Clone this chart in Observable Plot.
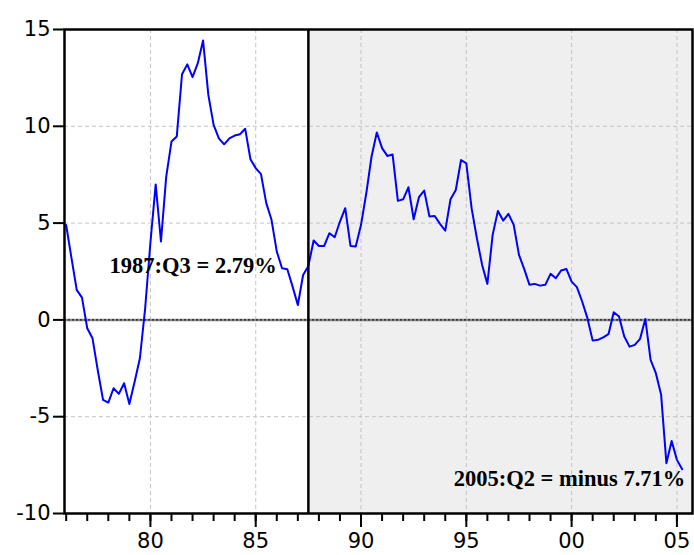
<!DOCTYPE html>
<html>
<head>
<meta charset="utf-8">
<script src="https://cdn.jsdelivr.net/npm/d3@7"></script>
<script src="https://cdn.jsdelivr.net/npm/@observablehq/plot@0.6"></script>
<style>
  html, body { margin: 0; padding: 0; background: white; }
  #chart { width: 694px; height: 555px; }
</style>
</head>
<body>
<div id="chart"></div>
<script>
// Quarterly series, 1976:Q1 .. 2005:Q2 (percent)
const startYear = 1976;
const quarterValues = [
  4.9, 3.2, 1.55, 1.15,        // 1976
  -0.43, -0.95, -2.6, -4.13,   // 1977
  -4.27, -3.53, -3.82, -3.27,  // 1978
  -4.34, -3.19, -1.98, 0.6,    // 1979
  4.0, 7.0, 4.05, 7.4,         // 1980
  9.21, 9.47, 12.69, 13.2,     // 1981
  12.54, 13.26, 14.43, 11.62,  // 1982
  10.07, 9.38, 9.07, 9.38,     // 1983
  9.52, 9.59, 9.87, 8.3,       // 1984
  7.84, 7.53, 6.03, 5.17,      // 1985
  3.53, 2.67, 2.62, 1.72,      // 1986
  0.77, 2.32, 2.79, 4.1,       // 1987
  3.82, 3.82, 4.48, 4.27,      // 1988
  5.08, 5.77, 3.82, 3.79,      // 1989
  4.91, 6.54, 8.44, 9.68,      // 1990
  8.87, 8.47, 8.54, 6.15,      // 1991
  6.23, 6.85, 5.2, 6.34,       // 1992
  6.68, 5.34, 5.37, 4.96,      // 1993
  4.61, 6.23, 6.71, 8.26,      // 1994
  8.09, 5.77, 4.22, 2.84,      // 1995
  1.86, 4.39, 5.63, 5.13,      // 1996
  5.48, 4.91, 3.36, 2.62,      // 1997
  1.81, 1.86, 1.77, 1.81,      // 1998
  2.38, 2.15, 2.55, 2.63,      // 1999
  1.98, 1.69, 0.95, 0.09,      // 2000
  -1.07, -1.03, -0.9, -0.74,   // 2001
  0.4, 0.17, -0.86, -1.38,     // 2002
  -1.29, -0.98, 0.05, -2.07,   // 2003
  -2.75, -3.87, -7.4, -6.25,   // 2004
  -7.23, -7.71                 // 2005
];

const xDomain = [1975.92, 2005.74];
const yDomain = [-10, 15];
const yTicks = [-10, -5, 0, 5, 10, 15];
const yGrid = [-5, 5, 10];
const xMajorTicks = [1980, 1985, 1990, 1995, 2000, 2005];
const xMinorTicks = d3.range(1976, 2006);
const breakQuarter = 1987.5; // 1987:Q3

const shade = [{x1: breakQuarter, x2: xDomain[1], y1: yDomain[0], y2: yDomain[1]}];
const annotations = [
  {x: 1986.0, y: 2.79, label: "1987:Q3 = 2.79%"},
  {x: 2005.4, y: -8.2, label: "2005:Q2 = minus 7.71%"}
];

const data = quarterValues.map((v, i) => ({t: startYear + i / 4, v}));

const axisFont = "'DejaVu Sans', sans-serif";

const chart = Plot.plot({
  width: 694,
  height: 555,
  marginLeft: 64,
  marginRight: 2,
  marginTop: 29,
  marginBottom: 42,
  style: {fontFamily: axisFont, background: "white", color: "black"},
  x: {type: "linear", domain: xDomain},
  y: {type: "linear", domain: yDomain},
  marks: [
    Plot.rect(shade, {x1: "x1", x2: "x2", y1: "y1", y2: "y2", fill: "#efefef"}),
    Plot.ruleX(xMajorTicks, {stroke: "#c4c4c4", strokeWidth: 1, strokeDasharray: "4,3"}),
    Plot.ruleY(yGrid, {stroke: "#c4c4c4", strokeWidth: 1, strokeDasharray: "4,3"}),
    Plot.ruleY([0], {stroke: "#8a8a8a", strokeWidth: 2.5}),
    Plot.ruleY([0], {stroke: "black", strokeWidth: 1, strokeDasharray: "2,2"}),
    Plot.line(data, {x: "t", y: "v", stroke: "#0000ff", strokeWidth: 2}),
    Plot.ruleX([breakQuarter], {stroke: "black", strokeWidth: 2.5}),
    Plot.text(annotations, {
      x: "x", y: "y", text: "label", textAnchor: "end",
      fontFamily: "'Liberation Serif', 'Times New Roman', serif",
      fontWeight: "bold", fontSize: 22.5, fill: "black"
    }),
    Plot.frame({stroke: "black", strokeWidth: 2.5}),
    Plot.axisY(yTicks, {
      tickSize: 11, tickPadding: 3, fontSize: 21, fontFamily: axisFont,
      strokeWidth: 2, stroke: "black", tickFormat: d => String(d), label: null
    }),
    Plot.axisX(xMinorTicks, {tickSize: 8, strokeWidth: 2, stroke: "black", tickFormat: () => "", label: null}),
    Plot.axisX(xMajorTicks, {
      tickSize: 14, tickPadding: 6, fontSize: 21, fontFamily: axisFont,
      strokeWidth: 2, stroke: "black",
      tickFormat: d => String(d % 100).padStart(2, "0"), label: null
    })
  ]
});
document.getElementById("chart").appendChild(chart);
</script>
</body>
</html>
